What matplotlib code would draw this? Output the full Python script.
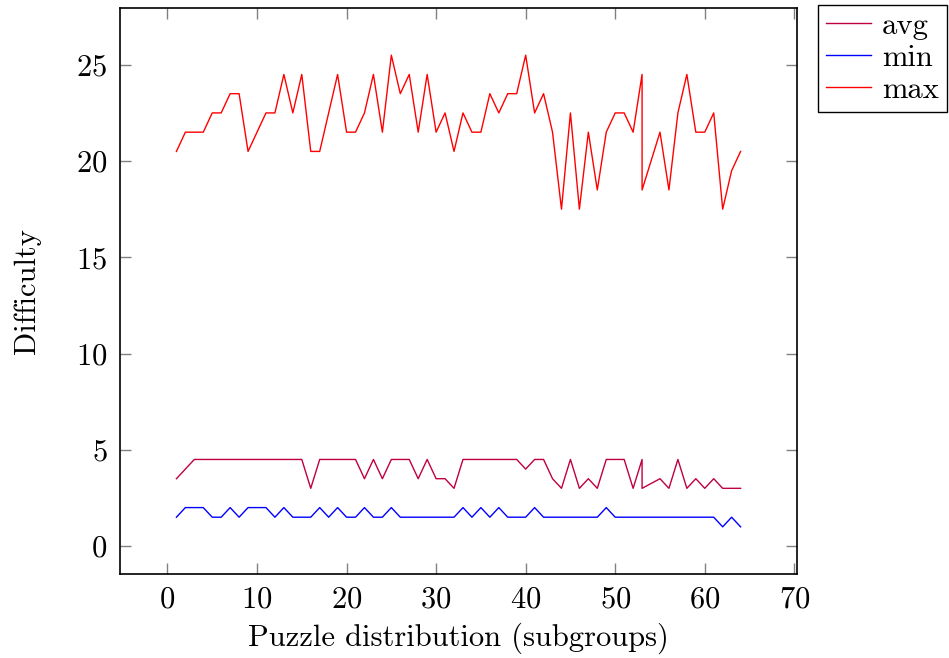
import numpy as np
import matplotlib
matplotlib.use("Agg")
from matplotlib import pyplot as plt

plt.rcParams['font.family'] = ['cmr10', 'DejaVu Serif']
plt.rcParams['mathtext.fontset'] = 'cm'
plt.rcParams['axes.formatter.use_mathtext'] = True

# subgroup index (row 54 shows up as a second 53 in the source)
subgroup = list(range(1, 54)) + [53] + list(range(55, 65))

avg_vals = [3.5, 4.0, 4.5, 4.5, 4.5, 4.5, 4.5, 4.5, 4.5, 4.5,
            4.5, 4.5, 4.5, 4.5, 4.5, 3.0, 4.5, 4.5, 4.5, 4.5,
            4.5, 3.5, 4.5, 3.5, 4.5, 4.5, 4.5, 3.5, 4.5, 3.5,
            3.5, 3.0, 4.5, 4.5, 4.5, 4.5, 4.5, 4.5, 4.5, 4.0,
            4.5, 4.5, 3.5, 3.0, 4.5, 3.0, 3.5, 3.0, 4.5, 4.5,
            4.5, 3.0, 4.5, 3.0, 3.5, 3.0, 4.5, 3.0, 3.5, 3.0,
            3.5, 3.0, 3.0, 3.0]

min_vals = [1.5, 2.0, 2.0, 2.0, 1.5, 1.5, 2.0, 1.5, 2.0, 2.0,
            2.0, 1.5, 2.0, 1.5, 1.5, 1.5, 2.0, 1.5, 2.0, 1.5,
            1.5, 2.0, 1.5, 1.5, 2.0, 1.5, 1.5, 1.5, 1.5, 1.5,
            1.5, 1.5, 2.0, 1.5, 2.0, 1.5, 2.0, 1.5, 1.5, 1.5,
            2.0, 1.5, 1.5, 1.5, 1.5, 1.5, 1.5, 1.5, 2.0, 1.5,
            1.5, 1.5, 1.5, 1.5, 1.5, 1.5, 1.5, 1.5, 1.5, 1.5,
            1.5, 1.0, 1.5, 1.0]

max_vals = [20.5, 21.5, 21.5, 21.5, 22.5, 22.5, 23.5, 23.5, 20.5, 21.5,
            22.5, 22.5, 24.5, 22.5, 24.5, 20.5, 20.5, 22.5, 24.5, 21.5,
            21.5, 22.5, 24.5, 21.5, 25.5, 23.5, 24.5, 21.5, 24.5, 21.5,
            22.5, 20.5, 22.5, 21.5, 21.5, 23.5, 22.5, 23.5, 23.5, 25.5,
            22.5, 23.5, 21.5, 17.5, 22.5, 17.5, 21.5, 18.5, 21.5, 22.5,
            22.5, 21.5, 24.5, 18.5, 21.5, 18.5, 22.5, 24.5, 21.5, 21.5,
            22.5, 17.5, 19.5, 20.5]

fig = plt.figure(figsize=(9.49, 6.58), dpi=100)
ax = fig.add_axes([120 / 949, 1 - 574 / 658, 677 / 949, 566 / 658])

ax.plot(subgroup, avg_vals, color=(0.75, 0, 0.25), lw=1.0, label='avg')
ax.plot(subgroup, min_vals, color='blue', lw=1.0, label='min')
ax.plot(subgroup, max_vals, color='red', lw=1.0, label='max')

ax.set_xlim(-5.3, 70.3)
ax.set_ylim(-1.45, 27.95)
ax.set_xticks(np.arange(0, 71, 10))
ax.set_yticks(np.arange(0, 26, 5))
ax.tick_params(direction='in', top=True, right=True, length=8, width=1,
               color='#808080', labelsize=22, pad=9)
for s in ax.spines.values():
    s.set_linewidth(1.2)

ax.set_xlabel('Puzzle distribution (subgroups)', fontsize=22, labelpad=6)
ax.set_ylabel('Difficulty', fontsize=22, labelpad=25)

ax.legend(loc='upper left', bbox_to_anchor=(818 / 949, 1 - 5 / 658),
          bbox_transform=fig.transFigure, fontsize=22, frameon=True,
          fancybox=False, edgecolor='black', framealpha=1,
          handlelength=1.5, handletextpad=0.35, borderpad=0.25,
          borderaxespad=0, labelspacing=0.15)

fig.savefig('out.png', dpi=100)
